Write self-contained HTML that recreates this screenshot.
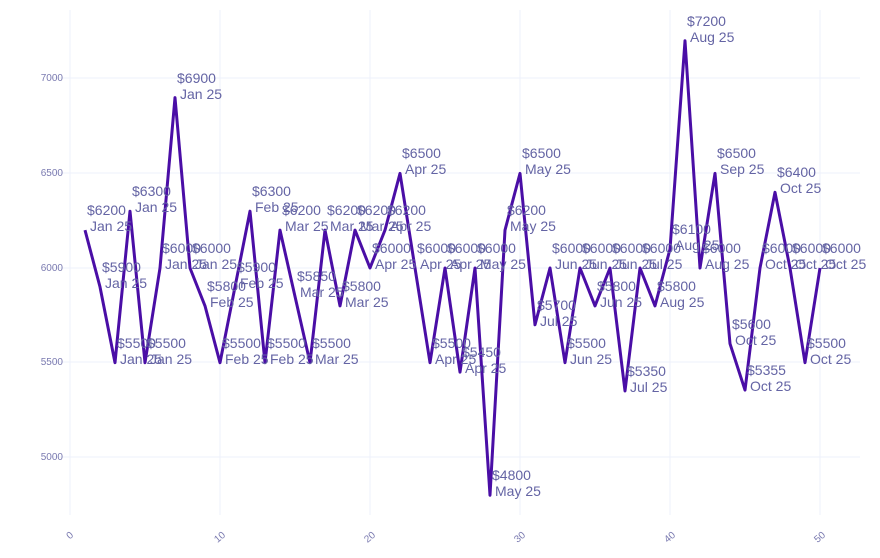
<!DOCTYPE html>
<html><head><meta charset="utf-8"><style>
body{margin:0;background:#fff;}
svg{display:block;font-family:"Liberation Sans",sans-serif;}
</style></head><body>
<svg width="880" height="558" viewBox="0 0 880 558" xmlns="http://www.w3.org/2000/svg">
<g stroke="#eef0fb" stroke-width="1">
<line x1="70" y1="10" x2="70" y2="515"/><line x1="220" y1="10" x2="220" y2="515"/><line x1="370" y1="10" x2="370" y2="515"/><line x1="520" y1="10" x2="520" y2="515"/><line x1="670" y1="10" x2="670" y2="515"/><line x1="820" y1="10" x2="820" y2="515"/>
<line x1="50" y1="78" x2="860" y2="78"/><line x1="50" y1="173" x2="860" y2="173"/><line x1="50" y1="268" x2="860" y2="268"/><line x1="50" y1="362" x2="860" y2="362"/><line x1="50" y1="457" x2="860" y2="457"/>
</g>
<g fill="#7a7ab0" font-size="10" text-anchor="end">
<text x="63" y="81">7000</text><text x="63" y="176">6500</text><text x="63" y="271">6000</text><text x="63" y="365">5500</text><text x="63" y="460">5000</text>
</g>
<g fill="#7a7ab0" font-size="10" text-anchor="end">
<text transform="translate(74,536) rotate(-40)">0</text>
<text transform="translate(226,536) rotate(-40)">10</text>
<text transform="translate(376,536) rotate(-40)">20</text>
<text transform="translate(526,536) rotate(-40)">30</text>
<text transform="translate(676,536) rotate(-40)">40</text>
<text transform="translate(826,536) rotate(-40)">50</text>
</g>
<polyline fill="none" stroke="#4a0ea6" stroke-width="3" stroke-linejoin="round" points="85,230.1 100,286.9 115,362.7 130,211.2 145,362.7 160,268 175,97.6 190,268 205,305.9 220,362.7 235,286.9 250,211.2 265,362.7 280,230.1 295,296.4 310,362.7 325,230.1 340,305.9 355,230.1 370,268 385,230.1 400,173.4 415,268 430,362.7 445,268 460,372.1 475,268 490,495.2 505,230.1 520,173.4 535,324.8 550,268 565,362.7 580,268 595,305.9 610,268 625,391 640,268 655,305.9 670,249.1 685,40.8 700,268 715,173.4 730,343.7 745,390.1 760,268 775,192.3 790,268 805,362.7 820,268"/>
<g fill="#6464a4" font-size="14">
<text x="87" y="215">$6200<tspan x="90" dy="16">Jan 25</tspan></text>
<text x="102" y="272">$5900<tspan x="105" dy="16">Jan 25</tspan></text>
<text x="117" y="348">$5500<tspan x="120" dy="16">Jan 25</tspan></text>
<text x="132" y="196">$6300<tspan x="135" dy="16">Jan 25</tspan></text>
<text x="147" y="348">$5500<tspan x="150" dy="16">Jan 25</tspan></text>
<text x="162" y="253">$6000<tspan x="165" dy="16">Jan 25</tspan></text>
<text x="177" y="83">$6900<tspan x="180" dy="16">Jan 25</tspan></text>
<text x="192" y="253">$6000<tspan x="195" dy="16">Jan 25</tspan></text>
<text x="207" y="291">$5800<tspan x="210" dy="16">Feb 25</tspan></text>
<text x="222" y="348">$5500<tspan x="225" dy="16">Feb 25</tspan></text>
<text x="237" y="272">$5900<tspan x="240" dy="16">Feb 25</tspan></text>
<text x="252" y="196">$6300<tspan x="255" dy="16">Feb 25</tspan></text>
<text x="267" y="348">$5500<tspan x="270" dy="16">Feb 25</tspan></text>
<text x="282" y="215">$6200<tspan x="285" dy="16">Mar 25</tspan></text>
<text x="297" y="281">$5850<tspan x="300" dy="16">Mar 25</tspan></text>
<text x="312" y="348">$5500<tspan x="315" dy="16">Mar 25</tspan></text>
<text x="327" y="215">$6200<tspan x="330" dy="16">Mar 25</tspan></text>
<text x="342" y="291">$5800<tspan x="345" dy="16">Mar 25</tspan></text>
<text x="357" y="215">$6200<tspan x="360" dy="16">Mar 25</tspan></text>
<text x="372" y="253">$6000<tspan x="375" dy="16">Apr 25</tspan></text>
<text x="387" y="215">$6200<tspan x="390" dy="16">Apr 25</tspan></text>
<text x="402" y="158">$6500<tspan x="405" dy="16">Apr 25</tspan></text>
<text x="417" y="253">$6000<tspan x="420" dy="16">Apr 25</tspan></text>
<text x="432" y="348">$5500<tspan x="435" dy="16">Apr 25</tspan></text>
<text x="447" y="253">$6000<tspan x="450" dy="16">Apr 25</tspan></text>
<text x="462" y="357">$5450<tspan x="465" dy="16">Apr 25</tspan></text>
<text x="477" y="253">$6000<tspan x="480" dy="16">May 25</tspan></text>
<text x="492" y="480">$4800<tspan x="495" dy="16">May 25</tspan></text>
<text x="507" y="215">$6200<tspan x="510" dy="16">May 25</tspan></text>
<text x="522" y="158">$6500<tspan x="525" dy="16">May 25</tspan></text>
<text x="537" y="310">$5700<tspan x="540" dy="16">Jul 25</tspan></text>
<text x="552" y="253">$6000<tspan x="555" dy="16">Jun 25</tspan></text>
<text x="567" y="348">$5500<tspan x="570" dy="16">Jun 25</tspan></text>
<text x="582" y="253">$6000<tspan x="585" dy="16">Jun 25</tspan></text>
<text x="597" y="291">$5800<tspan x="600" dy="16">Jun 25</tspan></text>
<text x="612" y="253">$6000<tspan x="615" dy="16">Jun 25</tspan></text>
<text x="627" y="376">$5350<tspan x="630" dy="16">Jul 25</tspan></text>
<text x="642" y="253">$6000<tspan x="645" dy="16">Jul 25</tspan></text>
<text x="657" y="291">$5800<tspan x="660" dy="16">Aug 25</tspan></text>
<text x="672" y="234">$6100<tspan x="675" dy="16">Aug 25</tspan></text>
<text x="687" y="26">$7200<tspan x="690" dy="16">Aug 25</tspan></text>
<text x="702" y="253">$6000<tspan x="705" dy="16">Aug 25</tspan></text>
<text x="717" y="158">$6500<tspan x="720" dy="16">Sep 25</tspan></text>
<text x="732" y="329">$5600<tspan x="735" dy="16">Oct 25</tspan></text>
<text x="747" y="375">$5355<tspan x="750" dy="16">Oct 25</tspan></text>
<text x="762" y="253">$6000<tspan x="765" dy="16">Oct 25</tspan></text>
<text x="777" y="177">$6400<tspan x="780" dy="16">Oct 25</tspan></text>
<text x="792" y="253">$6000<tspan x="795" dy="16">Oct 25</tspan></text>
<text x="807" y="348">$5500<tspan x="810" dy="16">Oct 25</tspan></text>
<text x="822" y="253">$6000<tspan x="825" dy="16">Oct 25</tspan></text>
</g>
</svg>
</body></html>
